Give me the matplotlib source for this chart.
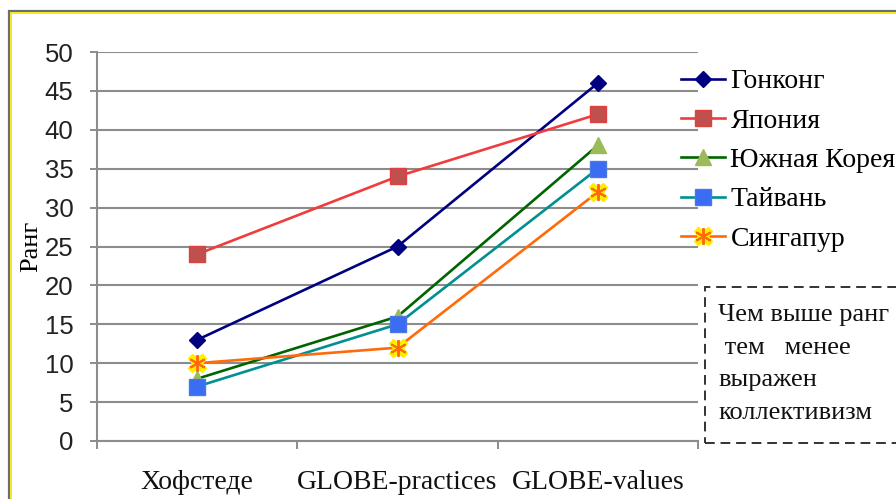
import matplotlib

matplotlib.use("Agg")
import matplotlib.pyplot as plt
from matplotlib.lines import Line2D
from matplotlib.legend_handler import HandlerTuple
from matplotlib.patches import Rectangle

# category and series data
categories = ["Хофстеде", "GLOBE-practices", "GLOBE-values"]
hong_kong = [13, 25, 46]
japan = [24, 34, 42]
south_korea = [8, 16, 38]
taiwan = [7, 15, 35]
singapore = [10, 12, 32]

y_ticks = [0, 5, 10, 15, 20, 25, 30, 35, 40, 45, 50]
note_text = "Чем выше ранг\n тем   менее\nвыражен\nколлективизм"

SERIF = "Liberation Serif"
SANS = "Liberation Sans"

fig = plt.figure(figsize=(8.96, 4.99), dpi=100)
W, H = 896, 499


def fx(px):
    return px / W


def fy(py):
    return 1 - py / H


# outer frame: gray line with a yellow one just inside
fig.add_artist(Rectangle((fx(9), fy(520)), fx(920 - 9), fy(11) - fy(520),
                         transform=fig.transFigure, fill=False,
                         edgecolor="#6e6e6e", linewidth=1.6))
fig.add_artist(Rectangle((fx(11), fy(520)), fx(920 - 11), fy(13) - fy(520),
                         transform=fig.transFigure, fill=False,
                         edgecolor="#f2e600", linewidth=1.2))

ax = fig.add_axes([fx(97), fy(441), fx(698 - 97), fy(52) - fy(441)])
ax.set_facecolor("none")

x = list(range(len(categories)))
lw = 1.9

ax.plot(x, hong_kong, color="#000080", linewidth=lw, marker="D",
        markersize=8, markerfacecolor="#000080", markeredgecolor="#000080",
        zorder=5)
ax.plot(x, japan, color="#f03c3c", linewidth=lw, marker="s",
        markersize=11, markerfacecolor="#c0504d", markeredgecolor="#e04040",
        zorder=5)
ax.plot(x, south_korea, color="#006400", linewidth=lw, marker="^",
        markersize=12, markerfacecolor="#9bbb59", markeredgecolor="#9bbb59",
        zorder=5)
ax.plot(x, taiwan, color="#009090", linewidth=lw, marker="s",
        markersize=11, markerfacecolor="#3a6cf4", markeredgecolor="#4a7ae0",
        zorder=5)
ax.plot(x, singapore, color="#ff6a0a", linewidth=lw, zorder=5)
ax.plot(x, singapore, linestyle="none", marker="X", markersize=13,
        markerfacecolor="#ffee00", markeredgecolor="#ffee00", zorder=6)
ax.plot(x, singapore, linestyle="none", marker=(6, 2, 0), markersize=12,
        markeredgecolor="#ff6a0a", markeredgewidth=1.4, zorder=7)

ax.set_xlim(-0.5, 2.5)
ax.set_ylim(0, 50)
ax.set_yticks(y_ticks)
ax.set_yticklabels([str(v) for v in y_ticks], fontsize=18.5, family=SANS,
                   color="#222222")
ax.set_xticks(x)
ax.set_xticklabels(categories, fontsize=20, family=SERIF, color="#111111")
ax.set_xticks([-0.5, 0.5, 1.5, 2.5], minor=True)
ax.tick_params(axis="x", which="major", length=0, pad=21)
ax.tick_params(axis="x", which="minor", length=6, width=1.4, color="#8c8c8c")
ax.tick_params(axis="y", length=5, width=1.4, color="#8c8c8c", pad=12)

ax.grid(axis="y", color="#8c8c8c", linewidth=1.5, zorder=0)
for side in ("top", "right"):
    ax.spines[side].set_visible(False)
for side in ("left", "bottom"):
    ax.spines[side].set_color("#8c8c8c")
    ax.spines[side].set_linewidth(1.5)

ax.set_ylabel("Ранг", fontsize=19, family=SERIF, labelpad=2)

# legend handles
h_hk = Line2D([], [], color="#000080", linewidth=lw, marker="D",
              markersize=8, markerfacecolor="#000080")
h_jp = Line2D([], [], color="#f03c3c", linewidth=lw, marker="s",
              markersize=11, markerfacecolor="#c0504d",
              markeredgecolor="#e04040")
h_kr = Line2D([], [], color="#006400", linewidth=lw, marker="^",
              markersize=12, markerfacecolor="#9bbb59",
              markeredgecolor="#9bbb59")
h_tw = Line2D([], [], color="#009090", linewidth=lw, marker="s",
              markersize=11, markerfacecolor="#3a6cf4",
              markeredgecolor="#4a7ae0")
h_sg_a = Line2D([], [], color="#ff6a0a", linewidth=lw, marker="X",
                markersize=13, markerfacecolor="#ffee00",
                markeredgecolor="#ffee00")
h_sg_b = Line2D([], [], linestyle="none", marker=(6, 2, 0), markersize=12,
                markeredgecolor="#ff6a0a", markeredgewidth=1.4)

fig.legend(
    handles=[h_hk, h_jp, h_kr, h_tw, (h_sg_a, h_sg_b)],
    labels=["Гонконг", "Япония", "Южная Корея", "Тайвань", "Сингапур"],
    handler_map={tuple: HandlerTuple(ndivide=1, pad=0)},
    loc="upper left",
    bbox_to_anchor=(fx(681), fy(69)),
    frameon=False,
    borderpad=0,
    borderaxespad=0,
    handlelength=1.6,
    handletextpad=0.18,
    labelspacing=0.5,
    prop={"family": SERIF, "size": 20},
)

# note box with dashed border, running off the right edge
fig.add_artist(Rectangle((fx(705), fy(443)), fx(905 - 705), fy(287) - fy(443),
                         transform=fig.transFigure, fill=False,
                         edgecolor="#333333", linewidth=1.4,
                         linestyle=(0, (5, 3))))
fig.text(fx(718), fy(304), note_text, ha="left", va="top",
         fontsize=19, family=SERIF, color="#111111", linespacing=1.62)

fig.savefig("out.png", dpi=100, facecolor="white")
